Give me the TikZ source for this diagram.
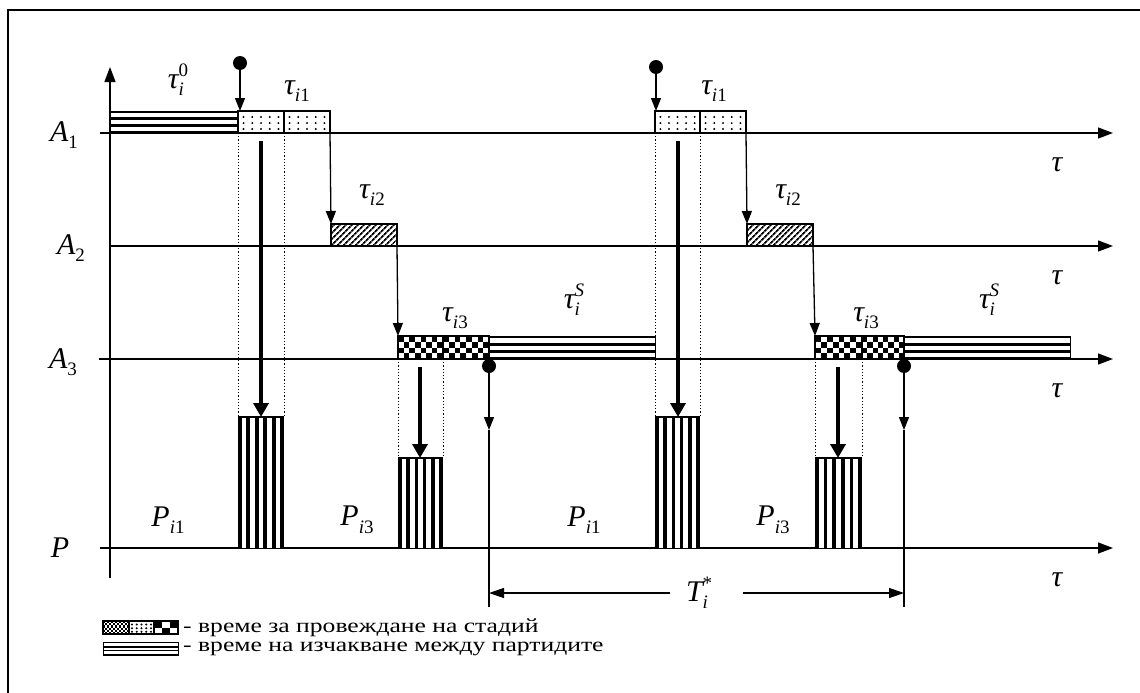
\documentclass[tikz,border=0pt]{standalone}
\usepackage{fontspec}
\setmainfont{Liberation Serif}
\usetikzlibrary{arrows.meta,patterns.meta}
\newcommand\lblfont{\fontsize{30}{32}\selectfont\itshape}
\newcommand\sbs[1]{\raisebox{-0.55ex}{\fontsize{19}{20}\selectfont #1}}
\newcommand\sbsup[2]{\rlap{\raisebox{0.85ex}{\fontsize{19}{20}\selectfont #2}}\raisebox{-0.55ex}{\fontsize{19}{20}\selectfont #1}}
\newcommand\legtx[1]{\scalebox{1.28}[1]{\fontsize{20}{22}\selectfont #1}}
\newcommand\hbarfill[4]{%
  \pgfmathsetmacro\hh{#4-#3}
  \fill[white] (#1,#3) rectangle (#2,#4);
  \fill[black] (#1,#3) rectangle (#2,{#3+0.1*\hh});
  \fill[black] (#1,{#3+0.29*\hh}) rectangle (#2,{#3+0.43*\hh});
  \fill[black] (#1,{#3+0.6*\hh}) rectangle (#2,{#3+0.72*\hh});
  \fill[black] (#1,{#3+0.9*\hh}) rectangle (#2,#4);
  \draw[line width=1pt] (#1,#3) rectangle (#2,#4);
}
\newcommand\vbarfill[4]{%
  \pgfmathsetmacro\ww{#2-#1}
  \fill[white] (#1,#3) rectangle (#2,#4);
  \foreach \k in {0,...,5}{\fill[black] ({#1+\k*(\ww-3.6)/5},#3) rectangle ({#1+\k*(\ww-3.6)/5+3.6},#4);}
  \draw[line width=1.5pt] (#1,#3) -- (#2,#3);
}
\newcommand\dotbox[4]{%
  \fill[white] (#1,#3) rectangle (#2,#4);
  \foreach \r in {0.27,0.55,0.82}{\foreach \c in {0.12,0.31,0.5,0.69,0.88}{%
    \fill[black] ({#1+\c*(#2-#1)},{#3+\r*(#4-#3)}) circle[radius=1.1pt];}}
  \draw[boxb] (#1,#3) rectangle (#2,#4);
}
\newcommand\chkbox[6]{% x0 x1 ytop ybot ncols nrows
  \begin{scope}
  \clip (#1,#3) rectangle (#2,#4);
  \fill[white] (#1,#3) rectangle (#2,#4);
  \pgfmathsetmacro\cw{(#2-#1)/#5}
  \pgfmathsetmacro\ch{(#4-#3)/#6}
  \foreach \i in {1,...,#5}{\foreach \j in {1,...,#6}{%
    \pgfmathtruncatemacro\pp{mod(\i+\j,2)}
    \ifnum\pp=0 \fill[black] ({#1+(\i-1)*\cw},{#3+(\j-1)*\ch}) rectangle ({#1+\i*\cw},{#3+\j*\ch});\fi}}
  \end{scope}
  \draw[boxb] (#1,#3) rectangle (#2,#4);
}
\tikzset{
  axis/.style={line width=1.3pt},
  axarrow/.style={line width=1.3pt,-{Triangle[length=15pt,width=11pt]}},
  thinarr/.style={line width=1.3pt,-{Triangle[length=13pt,width=10pt]}},
  thickarr/.style={line width=4pt,-{Triangle[length=14pt,width=15pt]}},
  dimarr/.style={line width=1.3pt,-{Triangle[length=15pt,width=10pt]}},
  guide/.style={line width=0.9pt,dash pattern=on 1.2pt off 2pt},
  lbl/.style={inner sep=0pt,font=\lblfont},
  legtext/.style={inner sep=0pt,anchor=west},
  boxb/.style={line width=1.5pt},
  hatch/.style={boxb,pattern={Lines[angle=45,distance=4pt,line width=1.8pt]}},
  pin/.style={fill=black},
}
\begin{document}
\begin{tikzpicture}[x=1pt,y=-1pt]
\useasboundingbox (0,0) rectangle (1140,693);
% frame
\draw[line width=1.5pt] (8,693) -- (8,10) -- (1140,10);

% guide (dotted) lines
\foreach \xx in {238,284,655,700}{\draw[guide] (\xx,133) -- (\xx,417);}
\foreach \xx in {398,443,815,862}{\draw[guide] (\xx,359) -- (\xx,458);}

% axes
\coordinate (O) at (110,578);
\coordinate (Otop) at (110,67);
\draw[axarrow] (O) -- (Otop);
\coordinate (a1s) at (100,133); \coordinate (a1e) at (1113,133);
\coordinate (a2s) at (110,246); \coordinate (a2e) at (1113,246);
\coordinate (a3s) at (99,359);  \coordinate (a3e) at (1113,359);
\coordinate (ps) at (100,548);  \coordinate (pe) at (1113,548);
\draw[axarrow] (a1s) -- (a1e);
\draw[axarrow] (a2s) -- (a2e);
\draw[axarrow] (a3s) -- (a3e);
\draw[axarrow] (ps) -- (pe);

% bars on A1
\hbarfill{110}{238}{111}{133}
\dotbox{238}{284}{111}{133}
\dotbox{284}{330}{111}{133}
\dotbox{655}{700}{111}{133}
\dotbox{700}{746}{111}{133}
% A2
\draw[hatch] (331,224) rectangle (397,246);
\draw[hatch] (747,224) rectangle (813,246);
% A3
\chkbox{398}{443}{336}{359}{8}{4}
\chkbox{443}{489}{336}{359}{8}{4}
\hbarfill{489}{655}{336}{359}
\chkbox{815}{862}{336}{359}{8}{4}
\chkbox{862}{904}{336}{359}{8}{4}
\hbarfill{904}{1070}{336}{359}
% P bars
\vbarfill{238}{284}{417}{548}
\vbarfill{398}{443}{458}{548}
\vbarfill{655}{700}{417}{548}
\vbarfill{815}{862}{458}{548}

% pins at A1
\coordinate (p1) at (240,63); \coordinate (p1e) at (240,111);
\coordinate (p2) at (656,67); \coordinate (p2e) at (656,111);
\fill[pin] (p1) circle[radius=7pt];
\fill[pin] (p2) circle[radius=7pt];
\draw[thinarr] (p1) -- (p1e);
\draw[thinarr] (p2) -- (p2e);

% stage arrows
\coordinate (s1a) at (330,133); \coordinate (s1b) at (331,224);
\coordinate (s2a) at (397,246); \coordinate (s2b) at (398,336);
\coordinate (s3a) at (746,133); \coordinate (s3b) at (747,224);
\coordinate (s4a) at (813,246); \coordinate (s4b) at (815,336);
\draw[thinarr] (s1a) -- (s1b);
\draw[thinarr] (s2a) -- (s2b);
\draw[thinarr] (s3a) -- (s3b);
\draw[thinarr] (s4a) -- (s4b);

% thick arrows to P
\coordinate (k1a) at (261,141); \coordinate (k1b) at (261,417);
\coordinate (k2a) at (420,367); \coordinate (k2b) at (420,458);
\coordinate (k3a) at (678,141); \coordinate (k3b) at (678,417);
\coordinate (k4a) at (838,367); \coordinate (k4b) at (838,458);
\draw[thickarr] (k1a) -- (k1b);
\draw[thickarr] (k2a) -- (k2b);
\draw[thickarr] (k3a) -- (k3b);
\draw[thickarr] (k4a) -- (k4b);

% pins at A3 and T*
\coordinate (q1) at (489,366); \coordinate (q1m) at (489,430); \coordinate (q1e) at (489,607);
\coordinate (q2) at (904,366); \coordinate (q2m) at (904,430); \coordinate (q2e) at (904,607);
\fill[pin] (q1) circle[radius=7pt];
\fill[pin] (q2) circle[radius=7pt];
\draw[thinarr] (q1) -- (q1m);
\draw[axis] (q1m) -- (q1e);
\draw[thinarr] (q2) -- (q2m);
\draw[axis] (q2m) -- (q2e);
\coordinate (Tl) at (489,593); \coordinate (Tr) at (904,593);
\coordinate (Tla) at (670,593); \coordinate (Tra) at (743,593);
\draw[dimarr] (Tla) -- (Tl);
\draw[dimarr] (Tra) -- (Tr);
\node[lbl] (T) at (697,593) {T\sbsup{i}{\upshape *}};

% labels
\node[lbl] (A1) at (64,135) {A\sbs{\upshape 1}};
\node[lbl] (A2) at (71,248) {A\sbs{\upshape 2}};
\node[lbl] (A3) at (63,362) {A\sbs{\upshape 3}};
\node[lbl] (Pl) at (60,548) {P};
\node[lbl] (r1) at (1057,165) {τ};
\node[lbl] (r2) at (1057,278) {τ};
\node[lbl] (r3) at (1057,391) {τ};
\node[lbl] (r4) at (1057,580) {τ};
\node[lbl] (t0) at (176,80) {τ\sbsup{i}{\upshape 0}};
\node[lbl] (t11) at (297,91) {τ\sbs{i\upshape 1}};
\node[lbl] (t12) at (372,195) {τ\sbs{i\upshape 2}};
\node[lbl] (t13) at (455,318) {τ\sbs{i\upshape 3}};
\node[lbl] (tS1) at (572,300) {τ\sbsup{i}{S}};
\node[lbl] (t21) at (714,91) {τ\sbs{i\upshape 1}};
\node[lbl] (t22) at (788,195) {τ\sbs{i\upshape 2}};
\node[lbl] (t23) at (866,318) {τ\sbs{i\upshape 3}};
\node[lbl] (tS2) at (987,300) {τ\sbsup{i}{S}};
\node[lbl] (P1a) at (168,520) {P\sbs{i\upshape 1}};
\node[lbl] (P3a) at (357,520) {P\sbs{i\upshape 3}};
\node[lbl] (P1b) at (584,520) {P\sbs{i\upshape 1}};
\node[lbl] (P3b) at (773,520) {P\sbs{i\upshape 3}};

% legend
\chkbox{103}{129}{621}{634}{13}{6}
\dotbox{129}{154}{621}{634}
\chkbox{154}{178}{621}{634}{3}{2}
\hbarfill{103}{178}{642}{655}
\node[legtext] (L1) at (183,628) {\legtx{- време за провеждане на стадий}};
\node[legtext] (L2) at (183,649) {\legtx{- време на изчакване между партидите}};
\end{tikzpicture}
\end{document}
